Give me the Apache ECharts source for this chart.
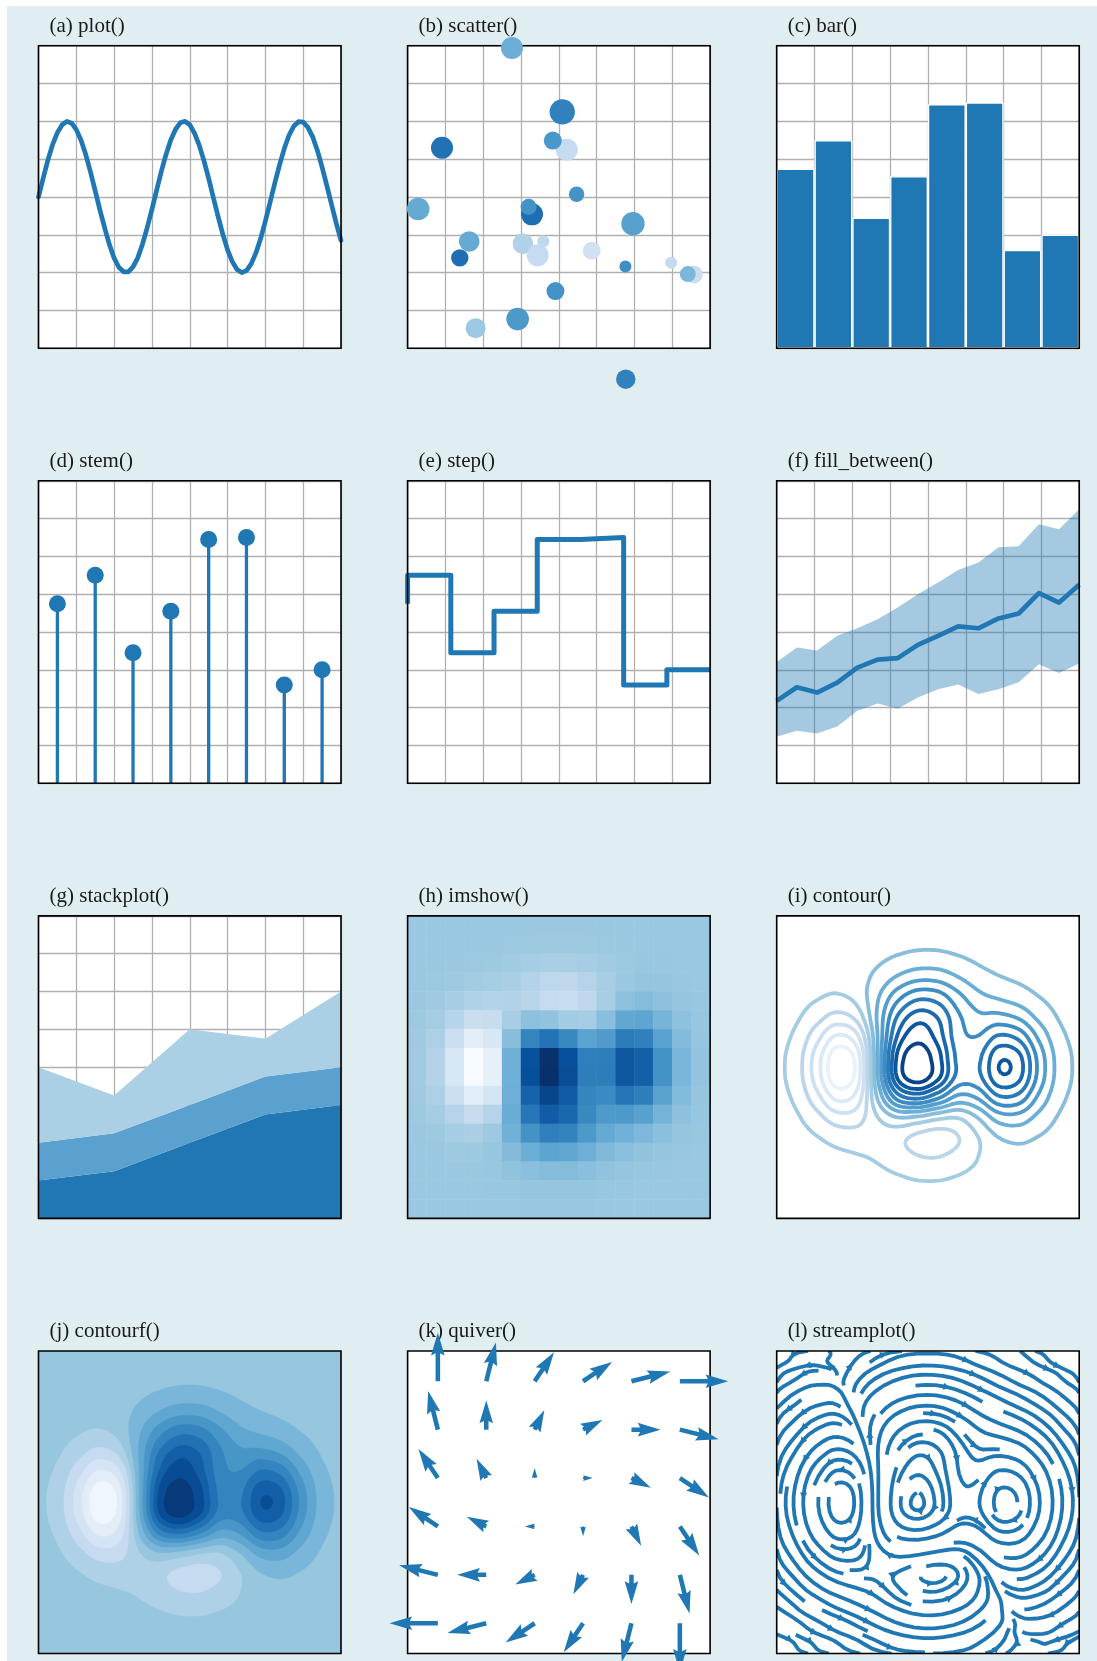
<!DOCTYPE html>
<html>
<head>
<meta charset="utf-8">
<title>Plot types</title>
<script src="https://cdn.jsdelivr.net/npm/echarts@6/dist/echarts.min.js"></script>
<style>
  html, body { margin: 0; padding: 0; background: #ffffff; }
  #backdrop { position: absolute; left: 6.7px; top: 5.7px; right: 0; bottom: 0; background: #e0eef2; }
  #chart { position: absolute; left: 0; top: 0; width: 1097px; height: 1661px; }
</style>
</head>
<body>
<div id="backdrop"></div>
<div id="chart"></div>
<script>
// ---------------- data ----------------

// (a) line
const plotX = [0, 0.125, 0.25, 0.375, 0.5, 0.625, 0.75, 0.875, 1, 1.125, 1.25, 1.375, 1.5, 1.625, 1.75, 1.875,
               2, 2.125, 2.25, 2.375, 2.5, 2.625, 2.75, 2.875, 3, 3.125, 3.25, 3.375, 3.5, 3.625, 3.75, 3.875,
               4, 4.125, 4.25, 4.375, 4.5, 4.625, 4.75, 4.875, 5, 5.125, 5.25, 5.375, 5.5, 5.625, 5.75, 5.875,
               6, 6.125, 6.25, 6.375, 6.5, 6.625, 6.75, 6.875, 7, 7.125, 7.25, 7.375, 7.5, 7.625, 7.75, 7.875, 8];
const plotY = [4.00, 4.50, 4.98, 5.39, 5.70, 5.91, 6.00, 5.95, 5.78, 5.50, 5.12, 4.66, 4.16, 3.65, 3.18, 2.74,
               2.38, 2.14, 2.02, 2.02, 2.15, 2.39, 2.75, 3.19, 3.67, 4.18, 4.68, 5.13, 5.51, 5.79, 5.96, 6.00,
               5.91, 5.69, 5.37, 4.96, 4.49, 3.98, 3.48, 3.01, 2.60, 2.29, 2.08, 2.00, 2.05, 2.23, 2.52, 2.90,
               3.36, 3.86, 4.37, 4.85, 5.28, 5.63, 5.87, 5.99, 5.98, 5.84, 5.59, 5.23, 4.79, 4.30, 3.80, 3.30, 2.85];

// (b) scatter: position, marker area and colour value (0-100)
const scatterX = [2.76, 4.09, 0.91, 4.21, 3.84, 4.47, 0.28, 3.29, 3.20, 5.96, 1.63, 1.38,
                  3.05, 3.44, 3.59, 4.87, 5.76, 6.97, 7.57, 7.41, 3.91, 2.91, 1.80, 5.77];
const scatterY = [7.94, 6.25, 5.30, 5.25, 5.49, 4.07, 3.68, 3.54, 3.74, 3.29, 2.82, 2.39,
                  2.76, 2.46, 2.83, 2.58, 2.16, 2.26, 1.95, 1.96, 1.51, 0.77, 0.53, -0.82];
const scatterS = [57.6, 76.7, 57.6, 57.6, 38.5, 28.2, 60.7, 57.6, 30.4, 65.1, 50.5, 36.0,
                  50.5, 57.6, 17.1, 38.5, 17.1, 17.1, 38.5, 30.4, 38.5, 60.7, 47.6, 44.8];
const scatterC = [50, 69, 75, 25, 60, 62, 52, 76, 62, 56, 52, 76,
                  32, 25, 27, 20, 64, 25, 23, 46, 62, 59, 38, 69];

// (c) bar, (d) stem, (e) step
const barX = [0.5, 1.5, 2.5, 3.5, 4.5, 5.5, 6.5, 7.5];
const barY = [4.75, 5.5, 3.45, 4.55, 6.45, 6.5, 2.6, 3.0];
const stemX = [0.5, 1.5, 2.5, 3.5, 4.5, 5.5, 6.5, 7.5];
const stemY = [4.75, 5.5, 3.45, 4.55, 6.45, 6.5, 2.6, 3.0];
const stepX = [0, 1.143, 2.286, 3.429, 4.571, 5.714, 6.857, 8];
const stepY = [4.75, 5.5, 3.45, 4.55, 6.45, 6.5, 2.6, 3.0];

// (f) fill_between
const fillX = [0, 0.533, 1.067, 1.6, 2.133, 2.667, 3.2, 3.733, 4.267, 4.8, 5.333, 5.867, 6.4, 6.933, 7.467, 8];
const fillUpper = [3.21, 3.59, 3.51, 3.90, 4.10, 4.34, 4.65, 5.00, 5.31, 5.64, 5.84, 6.24, 6.27, 6.85, 6.72, 7.25];
const fillLower = [1.23, 1.39, 1.32, 1.50, 1.92, 2.11, 1.97, 2.27, 2.49, 2.61, 2.36, 2.49, 2.67, 3.15, 2.92, 3.17];
const fillMid   = [2.18, 2.54, 2.40, 2.66, 3.06, 3.27, 3.31, 3.66, 3.90, 4.15, 4.10, 4.36, 4.49, 5.03, 4.78, 5.25];

// (g) stackplot, layers from the bottom up
const stackX = [0, 2, 4, 6, 8];
const stackA = [1, 1.25, 2, 2.75, 3];
const stackB = [1, 1, 1, 1, 1];
const stackC = [2, 1, 2, 1, 2];

// (h)-(j), (l): scalar field sampled on a 16 x 16 grid; rows run along y, columns along x
const fieldAxis = [-3.0, -2.6, -2.2, -1.8, -1.4, -1.0, -0.6, -0.2, 0.2, 0.6, 1.0, 1.4, 1.8, 2.2, 2.6, 3.0];
const zGrid = [
  [-4.07e-6, -2.053e-5, -7.459e-5, -2.127e-4, -5.333e-4, -1.203e-3, -2.220e-3, -3.071e-3, -3.095e-3, -2.258e-3, -1.158e-3, -3.707e-4, -3.869e-5, 2.384e-5, 1.309e-5, 3.28e-6],
  [-3.692e-5, -1.802e-4, -6.142e-4, -1.570e-3, -3.471e-3, -7.282e-3, -1.3226e-2, -1.8350e-2, -1.8572e-2, -1.3586e-2, -6.856e-3, -1.943e-3, 6.446e-5, 3.104e-4, 1.356e-4, 3.218e-5],
  [-2.451e-4, -1.1655e-3, -3.757e-3, -8.561e-3, -1.5957e-2, -2.9519e-2, -5.1999e-2, -7.2539e-2, -7.4054e-2, -5.4451e-2, -2.6610e-2, -5.535e-3, 2.585e-3, 2.550e-3, 9.887e-4, 2.263e-4],
  [-1.1906e-3, -5.554e-3, -1.7115e-2, -3.5014e-2, -5.2466e-2, -7.6824e-2, -0.12596, -0.17807, -0.18558, -0.13811, -6.2416e-2, -8.497e-4, 2.0191e-2, 1.4123e-2, 5.116e-3, 1.1439e-3],
  [-4.228e-3, -1.9473e-2, -5.8119e-2, -0.10890, -0.12743, -0.11628, -0.14955, -0.22254, -0.24952, -0.19323, -6.4464e-2, 5.8217e-2, 8.9655e-2, 5.4234e-2, 1.8903e-2, 4.168e-3],
  [-1.0964e-2, -5.0112e-2, -0.14671, -0.25928, -0.24243, -6.7668e-2, 5.7040e-2, 3.5232e-2, -3.5232e-2, -5.7040e-2, 6.7668e-2, 0.24242, 0.25928, 0.14672, 5.0113e-2, 1.0964e-2],
  [-2.0726e-2, -9.4403e-2, -0.27391, -0.47030, -0.38271, 7.2892e-2, 0.48979, 0.59235, 0.45872, 0.27344, 0.32955, 0.53679, 0.51314, 0.28257, 9.5673e-2, 2.0861e-2],
  [-2.8517e-2, -0.12977, -0.37563, -0.63983, -0.49889, 0.17390, 0.81393, 1.00775, 0.82372, 0.51599, 0.52736, 0.76737, 0.71448, 0.39071, 0.13198, 2.8753e-2],
  [-2.8515e-2, -0.12976, -0.37551, -0.63923, -0.49672, 0.17956, 0.82466, 1.02252, 0.83849, 0.52672, 0.53301, 0.76954, 0.71508, 0.39083, 0.13200, 2.8755e-2],
  [-2.0689e-2, -9.4054e-2, -0.27153, -0.45849, -0.34025, 0.18377, 0.70007, 0.88193, 0.74830, 0.48372, 0.44043, 0.57925, 0.52494, 0.28495, 9.6022e-2, 2.0898e-2],
  [-1.0873e-2, -4.9259e-2, -0.14090, -0.23046, -0.13879, 0.20300, 0.57036, 0.74214, 0.67168, 0.45629, 0.33834, 0.34606, 0.28809, 0.15253, 5.0966e-2, 1.1055e-2],
  [-4.133e-3, -1.8577e-2, -5.2006e-2, -7.8623e-2, -1.8537e-2, 0.16810, 0.38978, 0.52019, 0.49321, 0.34610, 0.21992, 0.16711, 0.11993, 6.0347e-2, 1.9800e-2, 4.263e-3],
  [-1.1342e-3, -5.025e-3, -1.3503e-2, -1.7123e-2, 1.1882e-2, 9.1231e-2, 0.19275, 0.26083, 0.25333, 0.18061, 0.10564, 6.3498e-2, 3.8082e-2, 1.7735e-2, 5.645e-3, 1.2003e-3],
  [-2.243e-4, -9.703e-4, -2.425e-3, -1.966e-3, 7.763e-3, 3.2428e-2, 6.5484e-2, 8.9248e-2, 8.7734e-2, 6.3032e-2, 3.5337e-2, 1.8184e-2, 9.180e-3, 3.882e-3, 1.1839e-3, 2.470e-4],
  [-3.189e-5, -1.329e-4, -2.920e-4, 2.633e-5, 2.269e-3, 7.708e-3, 1.5203e-2, 2.0800e-2, 2.0578e-2, 1.4844e-2, 8.135e-3, 3.797e-3, 1.6603e-3, 6.326e-4, 1.829e-4, 3.721e-5],
  [-3.25e-6, -1.281e-5, -2.189e-5, 4.835e-5, 4.054e-4, 1.2485e-3, 2.430e-3, 3.332e-3, 3.308e-3, 2.392e-3, 1.294e-3, 5.681e-4, 2.223e-4, 7.654e-5, 2.082e-5, 4.10e-6]
];
const contourLevels = [-0.687, -0.562, -0.438, -0.313, -0.189, -0.064, 0.060, 0.185,
                       0.310, 0.434, 0.559, 0.683, 0.795, 0.932, 1.057];

// (k) quiver: arrow tails on a 6 x 6 lattice, components per row (row = y)
const quiverPos = [-4, -2.4, -0.8, 0.8, 2.4, 4];
const quiverU = [
  [-8, -6.4, -4.8, -3.2, -1.6, 0],
  [-6.4, -4.8, -3.2, -1.6, 0, 1.6],
  [-4.8, -3.2, -1.6, 0, 1.6, 3.2],
  [-3.2, -1.6, 0, 1.6, 3.2, 4.8],
  [-1.6, 0, 1.6, 3.2, 4.8, 6.4],
  [0, 1.6, 3.2, 4.8, 6.4, 8]
];
const quiverV = [
  [0, -1.6, -3.2, -4.8, -6.4, -8],
  [1.6, 0, -1.6, -3.2, -4.8, -6.4],
  [3.2, 1.6, 0, -1.6, -3.2, -4.8],
  [4.8, 3.2, 1.6, 0, -1.6, -3.2],
  [6.4, 4.8, 3.2, 1.6, 0, -1.6],
  [8, 6.4, 4.8, 3.2, 1.6, 0]
];

// ---------------- styling / layout ----------------
const C0 = '#1f77b4';
const BLUES = ['#f7fbff', '#deebf7', '#c6dbef', '#9ecae1', '#6baed6', '#4292c6', '#2171b5', '#08519c', '#08306b'];
const STACK_COLORS = ['#2077b4', '#5aa1cf', '#abd0e6'];
const GRID_LINE = '#b0b0b0';
const PANEL = 302.5;
const COL_LEFT = [38.5, 407.6, 776.7];
const ROW_TOP = [45.7, 480.8, 915.9, 1351.0];
const QUIVER_SCALE = 5;      // data units of vector per data unit of axis
const QUIVER_WIDTH = 0.015;  // shaft width as a fraction of the axes width

const PANELS = [
  { title: '(a) plot()', row: 0, col: 0 },
  { title: '(b) scatter()', row: 0, col: 1 },
  { title: '(c) bar()', row: 0, col: 2 },
  { title: '(d) stem()', row: 1, col: 0 },
  { title: '(e) step()', row: 1, col: 1 },
  { title: '(f) fill_between()', row: 1, col: 2 },
  { title: '(g) stackplot()', row: 2, col: 0 },
  { title: '(h) imshow()', row: 2, col: 1 },
  { title: '(i) contour()', row: 2, col: 2 },
  { title: '(j) contourf()', row: 3, col: 0 },
  { title: '(k) quiver()', row: 3, col: 1 },
  { title: '(l) streamplot()', row: 3, col: 2 }
];

const BLUES_RGB = BLUES.map(h => [1, 3, 5].map(k => parseInt(h.slice(k, k + 2), 16)));
function blues(t) {
  t = Math.max(0, Math.min(1, t));
  const s = t * 8, i = Math.min(7, Math.floor(s)), f = s - i;
  const a = BLUES_RGB[i], b = BLUES_RGB[i + 1];
  return 'rgb(' + [0, 1, 2].map(k => Math.round(a[k] + (b[k] - a[k]) * f)).join(',') + ')';
}

// ---------------- field resampling (bicubic) ----------------
function cr(p0, p1, p2, p3, t) {
  return 0.5 * (2 * p1 + (p2 - p0) * t + (2 * p0 - 5 * p1 + 4 * p2 - p3) * t * t +
    (3 * p1 - p0 - 3 * p2 + p3) * t * t * t);
}
function gridVal(j, i) {
  const n = fieldAxis.length;
  if (i < 0) return 2 * gridVal(j, 0) - gridVal(j, 1);
  if (i > n - 1) return 2 * gridVal(j, n - 1) - gridVal(j, n - 2);
  if (j < 0) return 2 * gridVal(0, i) - gridVal(1, i);
  if (j > n - 1) return 2 * gridVal(n - 1, i) - gridVal(n - 2, i);
  return zGrid[j][i];
}
function fieldAt(x, y) {
  const n = fieldAxis.length, x0 = fieldAxis[0], step = fieldAxis[1] - fieldAxis[0];
  const gx = (x - x0) / step, gy = (y - x0) / step;
  const i = Math.max(0, Math.min(n - 2, Math.floor(gx)));
  const j = Math.max(0, Math.min(n - 2, Math.floor(gy)));
  const tx = gx - i, ty = gy - j;
  const r = [];
  for (let dj = -1; dj <= 2; dj++) {
    r.push(cr(gridVal(j + dj, i - 1), gridVal(j + dj, i), gridVal(j + dj, i + 1), gridVal(j + dj, i + 2), tx));
  }
  return cr(r[0], r[1], r[2], r[3], ty);
}
const FINE_N = 121;
const FMIN = fieldAxis[0], FMAX = fieldAxis[fieldAxis.length - 1];
const FH = (FMAX - FMIN) / (FINE_N - 1);
const fine = [];
for (let j = 0; j < FINE_N; j++) {
  const row = [];
  for (let i = 0; i < FINE_N; i++) row.push(fieldAt(FMIN + i * FH, FMIN + j * FH));
  fine.push(row);
}

// ---------------- marching squares with chaining ----------------
function isoChains(F, level) {
  const N = F.length;
  const pts = new Map(), adj = new Map();
  const link = (a, b) => {
    if (!adj.has(a)) adj.set(a, []);
    if (!adj.has(b)) adj.set(b, []);
    adj.get(a).push(b); adj.get(b).push(a);
  };
  const hPt = (i, j) => {
    const k = 'h' + i + ',' + j;
    if (!pts.has(k)) { const a = F[j][i], b = F[j][i + 1], t = (level - a) / (b - a); pts.set(k, [FMIN + (i + t) * FH, FMIN + j * FH]); }
    return k;
  };
  const vPt = (i, j) => {
    const k = 'v' + i + ',' + j;
    if (!pts.has(k)) { const a = F[j][i], b = F[j + 1][i], t = (level - a) / (b - a); pts.set(k, [FMIN + i * FH, FMIN + (j + t) * FH]); }
    return k;
  };
  for (let j = 0; j < N - 1; j++) {
    for (let i = 0; i < N - 1; i++) {
      const a = F[j][i], b = F[j][i + 1], c = F[j + 1][i + 1], d = F[j + 1][i];
      const idx = (a > level ? 1 : 0) | (b > level ? 2 : 0) | (c > level ? 4 : 0) | (d > level ? 8 : 0);
      if (idx === 0 || idx === 15) continue;
      const B = () => hPt(i, j), R = () => vPt(i + 1, j), T = () => hPt(i, j + 1), L = () => vPt(i, j);
      const mid = (a + b + c + d) / 4 > level;
      switch (idx) {
        case 1: case 14: link(L(), B()); break;
        case 2: case 13: link(B(), R()); break;
        case 3: case 12: link(L(), R()); break;
        case 4: case 11: link(R(), T()); break;
        case 6: case 9: link(B(), T()); break;
        case 7: case 8: link(L(), T()); break;
        case 5: if (mid) { link(B(), R()); link(L(), T()); } else { link(L(), B()); link(R(), T()); } break;
        case 10: if (mid) { link(L(), B()); link(R(), T()); } else { link(B(), R()); link(L(), T()); } break;
      }
    }
  }
  const visited = new Set(), chains = [];
  const walk = (start) => {
    const chain = [pts.get(start)];
    visited.add(start);
    let prev = null, cur = start;
    for (;;) {
      const nb = adj.get(cur);
      let next = null;
      for (const k of nb) if (k !== prev && !visited.has(k)) { next = k; break; }
      if (next === null) {
        if (nb.indexOf(start) >= 0 && chain.length > 2) chain.push(pts.get(start));
        break;
      }
      visited.add(next); chain.push(pts.get(next)); prev = cur; cur = next;
    }
    return chain;
  };
  for (const [k, nb] of adj) if (nb.length === 1 && !visited.has(k)) chains.push(walk(k));
  for (const k of adj.keys()) if (!visited.has(k)) chains.push(walk(k));
  return chains.filter(c => c.length > 2);
}

const NL = contourLevels.length;
// (i) contour lines
const contourLines = [];
for (let k = 0; k < NL; k++) {
  isoChains(fine, contourLevels[k]).forEach(pts => contourLines.push({ pts, color: blues(k / (NL - 1)) }));
}
// (j) filled bands: background band, then nested regions above / below it
const bandColor = k => blues((k + 0.5) / (NL - 1));
let zeroBand = 0;
for (let k = 0; k < NL - 1; k++) if (contourLevels[k] <= 0 && contourLevels[k + 1] > 0) zeroBand = k;
const contourFills = [{
  pts: [[FMIN, FMIN], [FMAX, FMIN], [FMAX, FMAX], [FMIN, FMAX]], color: bandColor(zeroBand)
}];
for (let k = zeroBand + 1; k < NL - 1; k++) {
  isoChains(fine, contourLevels[k]).forEach(pts => contourFills.push({ pts, color: bandColor(k) }));
}
for (let k = zeroBand; k >= 1; k--) {
  isoChains(fine, contourLevels[k]).forEach(pts => contourFills.push({ pts, color: bandColor(k - 1) }));
}

// ---------------- (l) streamlines of the rotated gradient ----------------
function streamlines(F) {
  const N = F.length, NM = 30, g2m = (NM - 1) / (N - 1);
  const U = new Float64Array(N * N), V = new Float64Array(N * N), SP = new Float64Array(N * N);
  for (let j = 0; j < N; j++) {
    for (let i = 0; i < N; i++) {
      const jm = Math.max(0, j - 1), jp = Math.min(N - 1, j + 1);
      const im = Math.max(0, i - 1), ip = Math.min(N - 1, i + 1);
      const u = -(F[jp][i] - F[jm][i]) / (jp - jm);
      const v = (F[j][ip] - F[j][im]) / (ip - im);
      U[j * N + i] = u; V[j * N + i] = v;
      SP[j * N + i] = Math.hypot(u / (N - 1), v / (N - 1));
    }
  }
  const interp = (A, xi, yi) => {
    const x = Math.floor(xi), y = Math.floor(yi);
    const xn = Math.min(x + 1, N - 1), yn = Math.min(y + 1, N - 1);
    const xt = xi - x, yt = yi - y;
    const a0 = A[y * N + x] * (1 - xt) + A[y * N + xn] * xt;
    const a1 = A[yn * N + x] * (1 - xt) + A[yn * N + xn] * xt;
    return a0 * (1 - yt) + a1 * yt;
  };
  const within = (xi, yi) => xi >= 0 && xi <= N - 1 && yi >= 0 && yi <= N - 1;
  const OUT = 'out', TERM = 'term', INVALID = 'invalid';
  const mask = new Uint8Array(NM * NM);
  let current = -1, traj = [];
  const f = (xi, yi, sgn) => {
    if (!within(xi, yi)) throw OUT;
    const s = interp(SP, xi, yi);
    if (s === 0) throw TERM;
    return [sgn * interp(U, xi, yi) / s, sgn * interp(V, xi, yi) / s];
  };
  const markCell = (xm, ym) => {
    const id = ym * NM + xm;
    if (current !== id) {
      if (mask[id] === 0) { traj.push(id); mask[id] = 1; current = id; }
      else throw INVALID;
    }
  };
  const update = (xg, yg) => {
    if (!within(xg, yg)) throw INVALID;
    markCell(Math.round(xg * g2m), Math.round(yg * g2m));
  };
  const euler = (xy, sgn) => {
    const [xi, yi] = xy[xy.length - 1];
    const [cx, cy] = f(xi, yi, sgn);
    const dsx = cx === 0 ? Infinity : (cx < 0 ? xi / -cx : (N - 1 - xi) / cx);
    const dsy = cy === 0 ? Infinity : (cy < 0 ? yi / -cy : (N - 1 - yi) / cy);
    const ds = Math.min(dsx, dsy);
    xy.push([xi + cx * ds, yi + cy * ds]);
    return ds;
  };
  const rk12 = (x0, y0, sgn) => {
    const maxerror = 0.003, maxds = Math.min(1 / NM, 0.1);
    let ds = maxds, stotal = 0, xi = x0, yi = y0;
    const xy = [];
    for (;;) {
      let k1, k2;
      try {
        if (within(xi, yi)) xy.push([xi, yi]); else throw OUT;
        k1 = f(xi, yi, sgn);
        k2 = f(xi + ds * k1[0], yi + ds * k1[1], sgn);
      } catch (e) {
        if (e === OUT && xy.length) { try { stotal += euler(xy, sgn); } catch (e2) { /* stop */ } }
        break;
      }
      const dx1 = ds * k1[0], dy1 = ds * k1[1];
      const dx2 = ds * 0.5 * (k1[0] + k2[0]), dy2 = ds * 0.5 * (k1[1] + k2[1]);
      const err = Math.hypot((dx2 - dx1) / (N - 1), (dy2 - dy1) / (N - 1));
      if (err < maxerror) {
        xi += dx2; yi += dy2;
        try { update(xi, yi); } catch (e) { break; }
        if (stotal + ds > 4.0) break;
        stotal += ds;
      }
      ds = err === 0 ? maxds : Math.min(maxds, 0.85 * ds * Math.sqrt(maxerror / err));
    }
    return [stotal, xy];
  };
  const integrate = (x0, y0) => {
    traj = [];
    try { markCell(Math.round(x0 * g2m), Math.round(y0 * g2m)); } catch (e) { return null; }
    const [sb, xyb] = rk12(x0, y0, -1);
    current = Math.round(y0 * g2m) * NM + Math.round(x0 * g2m);
    const [sf, xyf] = rk12(x0, y0, 1);
    const total = sb + sf;
    if (total > 0.1) return xyb.reverse().concat(xyf.slice(1));
    traj.forEach(id => { mask[id] = 0; });
    return null;
  };
  // seed points spiral inward from the border of the mask
  const seeds = [];
  {
    let xfirst = 0, yfirst = 1, xlast = NM - 1, ylast = NM - 1, x = 0, y = 0, dir = 'right';
    for (let k = 0; k < NM * NM; k++) {
      seeds.push([x, y]);
      if (dir === 'right') { x++; if (x >= xlast) { xlast--; dir = 'up'; } }
      else if (dir === 'up') { y++; if (y >= ylast) { ylast--; dir = 'left'; } }
      else if (dir === 'left') { x--; if (x <= xfirst) { xfirst++; dir = 'down'; } }
      else { y--; if (y <= yfirst) { yfirst++; dir = 'right'; } }
    }
  }
  const lines = [];
  for (const [xm, ym] of seeds) {
    if (mask[ym * NM + xm] !== 0) continue;
    const t = integrate(xm / g2m, ym / g2m);
    if (!t || t.length < 2) continue;
    const pts = t.map(p => [FMIN + p[0] * FH, FMIN + p[1] * FH]);
    let acc = 0; const s = [];
    for (let k = 1; k < pts.length; k++) { acc += Math.hypot(pts[k][0] - pts[k - 1][0], pts[k][1] - pts[k - 1][1]); s.push(acc); }
    let n = 0; while (n < s.length && s[n] < acc / 2) n++;
    n = Math.min(n, pts.length - 2);
    const tail = pts[n], head = [(pts[n][0] + pts[n + 1][0]) / 2, (pts[n][1] + pts[n + 1][1]) / 2];
    lines.push({ pts, tail, head });
  }
  return lines;
}
const streamData = streamlines(fine);

// ---------------- chart option ----------------
const grids = [], xAxes = [], yAxes = [], series = [], graphics = [];
PANELS.forEach((p, k) => {
  const left = COL_LEFT[p.col], top = ROW_TOP[p.row];
  grids.push({ left, top, width: PANEL, height: PANEL, show: true, backgroundColor: '#ffffff', borderWidth: 0 });
  graphics.push({
    type: 'text', x: left + 11, y: top - 19.5, z: 40, silent: true,
    style: { text: p.title, font: '21px "Liberation Serif", "Times New Roman", serif', fill: '#1a1a1a', verticalAlign: 'middle' }
  });
  graphics.push({
    type: 'rect', z: 50, silent: true,
    shape: { x: left, y: top, width: PANEL, height: PANEL },
    style: { fill: 'none', stroke: '#000000', lineWidth: 1.6 }
  });
});

const hidden = { axisLine: { show: false }, axisTick: { show: false }, axisLabel: { show: false } };
function valueAxis(k, min, max, lines) {
  return Object.assign({
    gridIndex: k, type: 'value', min, max, interval: lines ? 1 : undefined,
    splitLine: { show: !!lines, lineStyle: { color: GRID_LINE, width: 1.3 } }
  }, hidden);
}
for (let k = 0; k < 12; k++) {
  if (k === 2) {
    xAxes.push(Object.assign({
      gridIndex: k, type: 'category', data: barX.map(String), boundaryGap: true,
      splitLine: { show: true, interval: 0, lineStyle: { color: GRID_LINE, width: 1.3 } }
    }, hidden));
    yAxes.push(valueAxis(k, 0, 8, true));
  } else if (k === 7) {
    xAxes.push(Object.assign({ gridIndex: k, type: 'category', data: fieldAxis.map(String), boundaryGap: true, splitLine: { show: false } }, hidden));
    yAxes.push(Object.assign({ gridIndex: k, type: 'category', data: fieldAxis.map(String), boundaryGap: true, inverse: true, splitLine: { show: false } }, hidden));
  } else if (k === 8 || k === 9 || k === 11) {
    xAxes.push(valueAxis(k, FMIN, FMAX, false));
    yAxes.push(valueAxis(k, FMIN, FMAX, false));
  } else if (k === 10) {
    xAxes.push(valueAxis(k, -5, 5, false));
    yAxes.push(valueAxis(k, -5, 5, false));
  } else {
    xAxes.push(valueAxis(k, 0, 8, true));
    yAxes.push(valueAxis(k, 0, 8, true));
  }
}
const on = k => ({ xAxisIndex: k, yAxisIndex: k });

// (a) plot
series.push(Object.assign({
  type: 'line', data: plotX.map((x, i) => [x, plotY[i]]), smooth: false, symbol: 'none',
  lineStyle: { color: C0, width: 4.7, cap: 'round', join: 'round' }, z: 3
}, on(0)));

// (b) scatter
series.push(Object.assign({
  type: 'scatter', clip: false, z: 60,
  data: scatterX.map((x, i) => ({
    value: [x, scatterY[i]], symbolSize: 2.9 * Math.sqrt(scatterS[i]),
    itemStyle: { color: blues(scatterC[i] / 100), opacity: 1 }
  }))
}, on(1)));

// (c) bar
series.push(Object.assign({
  type: 'bar', data: barY, barCategoryGap: '0%', z: 3,
  itemStyle: { color: C0, borderColor: '#ffffff', borderWidth: 1.3 }
}, on(2)));

// (d) stem: stems then heads
series.push(Object.assign({
  type: 'custom', z: 3, data: stemX.map((x, i) => [x, stemY[i]]),
  renderItem: (params, api) => {
    const p0 = api.coord([api.value(0), 0]), p1 = api.coord([api.value(0), api.value(1)]);
    return { type: 'line', shape: { x1: p0[0], y1: p0[1], x2: p1[0], y2: p1[1] }, style: { stroke: C0, lineWidth: 3.3 } };
  }
}, on(3)));
series.push(Object.assign({
  type: 'scatter', z: 4, symbolSize: 17, itemStyle: { color: C0, opacity: 1 },
  data: stemX.map((x, i) => [x, stemY[i]])
}, on(3)));

// (e) step
series.push(Object.assign({
  type: 'line', step: 'start', symbol: 'none', z: 3,
  data: stepX.map((x, i) => [x, stepY[i]]),
  lineStyle: { color: C0, width: 5, join: 'round' }
}, on(4)));

// (f) fill_between: band then centre line
series.push(Object.assign({
  type: 'custom', z: 3, data: [[fillX[0], fillLower[0]]],
  renderItem: (params, api) => {
    const up = fillX.map((x, i) => api.coord([x, fillUpper[i]]));
    const lo = fillX.map((x, i) => api.coord([x, fillLower[i]])).reverse();
    return { type: 'polygon', shape: { points: up.concat(lo) }, style: { fill: 'rgba(31,119,180,0.4)' } };
  }
}, on(5)));
series.push(Object.assign({
  type: 'line', symbol: 'none', z: 4, data: fillX.map((x, i) => [x, fillMid[i]]),
  lineStyle: { color: C0, width: 4.7, join: 'round' }
}, on(5)));

// (g) stackplot: each layer sits on the running total of the layers below it
const stackLayers = [stackA, stackB, stackC];
series.push(Object.assign({
  type: 'custom', z: 3, data: stackLayers.map((ys, s) => [stackX[0], ys[0]]),
  renderItem: (params, api) => {
    const s = params.dataIndex;
    const base = stackX.map((x, i) => { let b = 0; for (let q = 0; q < s; q++) b += stackLayers[q][i]; return b; });
    const top = base.map((b, i) => b + stackLayers[s][i]);
    const upper = stackX.map((x, i) => api.coord([x, top[i]]));
    const lower = stackX.map((x, i) => api.coord([x, base[i]])).reverse();
    return { type: 'polygon', shape: { points: upper.concat(lower) }, style: { fill: STACK_COLORS[s] } };
  }
}, on(6)));

// (h) imshow
const heatData = [];
zGrid.forEach((row, j) => row.forEach((v, i) => heatData.push([i, j, v])));
const heatIndex = series.length;
series.push(Object.assign({ type: 'heatmap', data: heatData, z: 3, progressive: 0, emphasis: { disabled: true } }, on(7)));
const zFlat = zGrid.flat();

// (i) contour
series.push(Object.assign({
  type: 'custom', z: 3, data: contourLines.map(c => c.pts[0]),
  renderItem: (params, api) => {
    const c = contourLines[params.dataIndex];
    return {
      type: 'polyline', shape: { points: c.pts.map(p => api.coord(p)) },
      style: { fill: null, stroke: c.color, lineWidth: 3.8, lineJoin: 'round' }
    };
  }
}, on(8)));

// (j) contourf
series.push(Object.assign({
  type: 'custom', z: 3, data: contourFills.map(c => c.pts[0]),
  renderItem: (params, api) => {
    const c = contourFills[params.dataIndex];
    return { type: 'polygon', shape: { points: c.pts.map(p => api.coord(p)) }, style: { fill: c.color, stroke: c.color, lineWidth: 0.4 } };
  }
}, on(9)));

// (k) quiver
const arrows = [];
quiverPos.forEach((y, r) => quiverPos.forEach((x, c) => arrows.push({ x, y, u: quiverU[r][c], v: quiverV[r][c] })));
series.push(Object.assign({
  type: 'custom', z: 60, clip: false, data: arrows.map(a => [a.x, a.y]),
  renderItem: (params, api) => {
    const a = arrows[params.dataIndex];
    const p0 = api.coord([a.x, a.y]);
    const p1 = api.coord([a.x + a.u / QUIVER_SCALE, a.y + a.v / QUIVER_SCALE]);
    const w = QUIVER_WIDTH * api.size([10, 0])[0];
    const dx = p1[0] - p0[0], dy = p1[1] - p0[1];
    const len = Math.hypot(dx, dy);
    const L = len / w;
    let X, Y;
    const d = len > 0 ? [dx / len, dy / len] : [1, 0];
    if (L < 1) {
      X = []; Y = [];
      for (let k = 0; k < 8; k++) { X.push(Math.cos(k * Math.PI / 3) * 0.5); Y.push(Math.sin(k * Math.PI / 3) * 0.5); }
    } else if (L < 5) {
      const s = L / 5;
      X = [0, 0.5, 0, 5, 0, 0.5, 0, 0].map(v => v * s);
      Y = [0.5, 0.5, 1.5, 0, -1.5, -0.5, -0.5, 0.5].map(v => v * s);
    } else {
      X = [0, L - 4.5, L - 5, L, L - 5, L - 4.5, 0, 0];
      Y = [0.5, 0.5, 1.5, 0, -1.5, -0.5, -0.5, 0.5];
    }
    const n = [-d[1], d[0]];
    const pts = X.map((xv, k) => [p0[0] + (d[0] * xv + n[0] * Y[k]) * w, p0[1] + (d[1] * xv + n[1] * Y[k]) * w]);
    return { type: 'polygon', shape: { points: pts }, style: { fill: C0 } };
  }
}, on(10)));

// (l) streamplot
series.push(Object.assign({
  type: 'custom', z: 3, clip: true, data: streamData.map(s => s.pts[0]),
  renderItem: (params, api) => {
    const s = streamData[params.dataIndex];
    const pts = s.pts.map(p => api.coord(p));
    const t = api.coord(s.tail), h = api.coord(s.head);
    let dx = h[0] - t[0], dy = h[1] - t[1];
    const len = Math.hypot(dx, dy) || 1; dx /= len; dy /= len;
    const HL = 7, HW = 3.6;
    const b = [h[0] - dx * HL, h[1] - dy * HL];
    return {
      type: 'group', children: [
        { type: 'polyline', shape: { points: pts }, style: { fill: null, stroke: C0, lineWidth: 3.8, lineJoin: 'round' } },
        { type: 'polygon', shape: { points: [h, [b[0] - dy * HW, b[1] + dx * HW], [b[0] + dy * HW, b[1] - dx * HW]] }, style: { fill: C0 } }
      ]
    };
  }
}, on(11)));

const option = {
  animation: false,
  backgroundColor: 'transparent',
  grid: grids,
  xAxis: xAxes,
  yAxis: yAxes,
  visualMap: [{
    type: 'continuous', show: false, seriesIndex: heatIndex, dimension: 2,
    min: Math.min(...zFlat), max: Math.max(...zFlat), inRange: { color: BLUES }
  }],
  series,
  graphic: graphics
};

const chart = echarts.init(document.getElementById('chart'), null, { renderer: 'canvas' });
chart.setOption(option);
</script>
</body>
</html>
